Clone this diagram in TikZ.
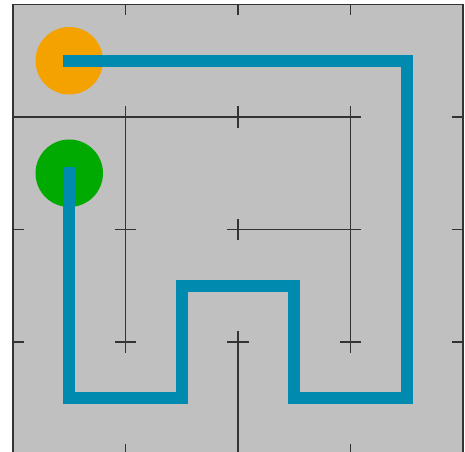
\documentclass[tikz,border=0pt]{standalone}
\usepackage{tikz}
\usetikzlibrary{positioning}
\definecolor{mazegrey}{RGB}{192,192,192}
\definecolor{routeblue}{RGB}{0,138,175}
\definecolor{startorange}{RGB}{244,162,0}
\definecolor{goalgreen}{RGB}{0,170,0}

\begin{document}
\begin{tikzpicture}[x=1cm,y=1cm,
            wall/.style={draw=black!80,line width=0.3pt},
            marker/.style={circle,minimum size=0.6cm,inner sep=0pt},
            route/.style={draw=routeblue,line width=3pt,line cap=rect,line join=miter}]
        \useasboundingbox (-0.1156,0.0222) rectangle (4.0178,4.04);
        \fill[mazegrey] (0,0) rectangle (4,4);
        % grid ticks at every corner
        \begin{scope}
        \clip (0,0) rectangle (4,4);
        \foreach \i in {0,...,4}
            \foreach \j in {0,...,4}
                \draw[wall] (\i-0.095,\j) -- (\i+0.095,\j)
                            (\i,\j-0.095) -- (\i,\j+0.095);
        \end{scope}
        % walls
        \draw[wall] (0,0) rectangle (4,4);
        \draw[wall] (0,3) -- (3,3);
        \draw[wall] (1,3) -- (1,1);
        \draw[wall] (3,3) -- (3,1);
        \draw[wall] (2,2) -- (3,2);
        \draw[wall] (2,1) -- (2,0);
        % start and goal
        \node[marker,fill=startorange] (start) at (0.5,3.5) {};
        \node[marker,fill=goalgreen] (goal) at (0.5,2.5) {};
        % route corners
        \coordinate (c1) at (3.5,3.5);
        \coordinate (c2) at (3.5,0.5);
        \coordinate (c3) at (2.5,0.5);
        \coordinate (c4) at (2.5,1.5);
        \coordinate (c5) at (1.5,1.5);
        \coordinate (c6) at (1.5,0.5);
        \coordinate (c7) at (0.5,0.5);
        \draw[route] (start.center) -- (c1) -- (c2) -- (c3) -- (c4)
            -- (c5) -- (c6) -- (c7) -- (goal.center);
\end{tikzpicture}
\end{document}
